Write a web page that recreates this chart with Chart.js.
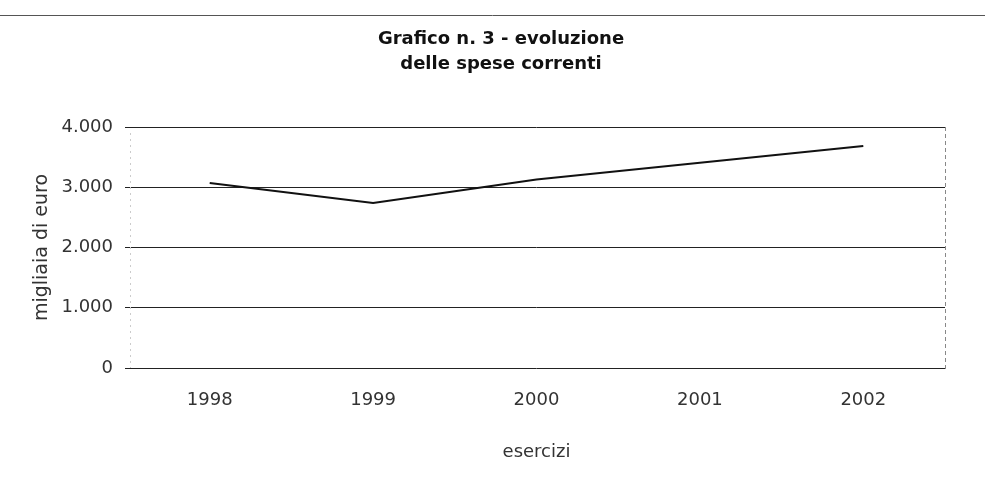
<!DOCTYPE html>
<html lang="it">
<head>
    <meta charset="UTF-8">
    <title>Grafico n. 3 - evoluzione delle spese correnti</title>
    <script src="https://cdn.jsdelivr.net/npm/chart.js"></script>
    <style>
        html, body { margin: 0; padding: 0; background: #fff; }
        #wrap { width: 985px; height: 497px; position: relative; }
    </style>
</head>
<body>
    <div id="wrap"><canvas id="speseChart"></canvas></div>

    <script>
        // dati
        const esercizi = ['1998', '1999', '2000', '2001', '2002'];
        const speseCorrenti = [3070, 2740, 3130, 3405, 3685];
        const yTicks = [0, 1000, 2000, 3000, 4000];
        const titolo = ['Grafico n. 3 - evoluzione', 'delle spese correnti'];

        const fmt = v => String(v).replace(/\B(?=(\d{3})+(?!\d))/g, '.');

        // titolo, riga in alto e bordo destro tratteggiato
        const extras = {
            id: 'extras',
            beforeDatasetsDraw(chart) {
                const c = chart.ctx, a = chart.chartArea;
                c.save();
                c.strokeStyle = '#888';
                c.lineWidth = 1;
                c.setLineDash([4, 3]);
                c.beginPath();
                c.moveTo(a.right + 0.5, a.top);
                c.lineTo(a.right + 0.5, a.bottom + 4);
                c.stroke();
                c.strokeStyle = '#ccc';
                c.setLineDash([2, 4]);
                c.beginPath();
                c.moveTo(a.left + 2.5, a.top + 6);
                c.lineTo(a.left + 2.5, a.bottom);
                c.stroke();
                c.restore();
            },
            afterDraw(chart) {
                const c = chart.ctx;
                c.save();
                c.strokeStyle = '#555';
                c.lineWidth = 1;
                c.beginPath();
                c.moveTo(0, 15.5);
                c.lineTo(985, 15.5);
                c.stroke();
                c.fillStyle = '#111';
                c.font = 'bold 18px "DejaVu Sans"';
                c.textAlign = 'center';
                c.textBaseline = 'middle';
                c.fillText(titolo[0], 501, 39);
                c.fillText(titolo[1], 501, 64);
                c.restore();
            }
        };

        const ctx = document.getElementById('speseChart').getContext('2d');
        new Chart(ctx, {
            type: 'line',
            data: {
                labels: esercizi,
                datasets: [{
                    label: 'spese correnti',
                    data: speseCorrenti,
                    borderColor: '#111',
                    borderWidth: 2,
                    pointRadius: 0,
                    tension: 0,
                    fill: false
                }]
            },
            options: {
                responsive: true,
                maintainAspectRatio: false,
                animation: false,
                layout: { padding: { top: 127, right: 40, left: 0, bottom: 0 } },
                plugins: {
                    legend: { display: false },
                    tooltip: { enabled: false }
                },
                scales: {
                    x: {
                        offset: true,
                        afterFit: s => { s.height = 129; },
                        grid: { display: false, drawTicks: false },
                        border: { display: false },
                        ticks: {
                            color: '#333',
                            font: { family: 'DejaVu Sans', size: 18 },
                            padding: 22
                        },
                        title: {
                            display: true,
                            text: 'esercizi',
                            color: '#333',
                            font: { family: 'DejaVu Sans', size: 18 },
                            padding: { top: 0, bottom: 34 }
                        }
                    },
                    y: {
                        min: 0,
                        max: 4000,
                        afterFit: s => { s.width = 128; },
                        afterBuildTicks: s => { s.ticks = yTicks.map(v => ({ value: v })); },
                        grid: {
                            color: '#222',
                            lineWidth: 1,
                            tickLength: 3
                        },
                        border: { display: false },
                        ticks: {
                            color: '#333',
                            font: { family: 'DejaVu Sans', size: 18 },
                            padding: 12,
                            callback: v => fmt(v)
                        },
                        title: {
                            display: true,
                            text: 'migliaia di euro',
                            color: '#333',
                            font: { family: 'DejaVu Sans', size: 19 },
                            padding: { top: 31, bottom: 0 }
                        }
                    }
                }
            },
            plugins: [extras]
        });
    </script>
</body>
</html>
